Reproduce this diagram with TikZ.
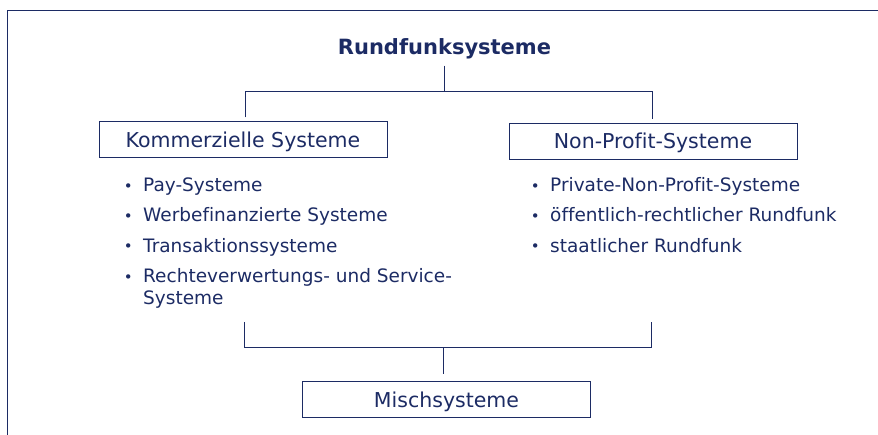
\documentclass[tikz,border=0pt]{standalone}
\usepackage{fontspec}
\setmainfont[Ligatures=NoCommon]{DejaVu Sans}
\definecolor{navy}{HTML}{1C2B64}
\newcommand{\itemdot}{\llap{\raisebox{0.5pt}{\fontsize{15}{17}\selectfont •}\hspace{10.5pt}}}
\begin{document}
\begin{tikzpicture}[x=1pt,y=-1pt,
  every node/.style={text=navy, inner sep=0pt},
  box/.style={draw=navy, line width=1pt, minimum width=288pt, minimum height=36pt,
    font=\fontsize{20.5}{24}\selectfont, text height=15pt, text depth=0pt},
  item/.style={anchor=base west, font=\fontsize{18.5}{22}\selectfont},
  conn/.style={draw=navy, line width=1pt},
]
\useasboundingbox (0,0) rectangle (878,435);
% frame
\coordinate (fbl) at (7,435);
\coordinate (ftl) at (7,11);
\coordinate (ftr) at (878,11);
\draw[conn] (fbl) -- (ftl) -- (ftr);

% title
\node[font=\fontsize{21}{25}\selectfont\bfseries, text height=15pt, text depth=0pt] (title) at (444.5,47.5) {Rundfunksysteme};

% boxes
\node[box] (kom) at (243,139.8) {Kommerzielle Systeme};
\node[box] (np) at (653,141.2) {Non-Profit-Systeme};
\node[box] (misch) at (446.5,399.7) {Mischsysteme};

% top connector
\coordinate (tj) at (444.5,92);
\coordinate (tl) at (245,92);
\coordinate (tr) at (652,92);
\draw[conn] ([yshift=-10.5pt]title.south) -- (tj);
\draw[conn] ([yshift=4pt]kom.north -| tl) -- (tl) -- (tr) -- ([yshift=4pt]np.north -| tr);

% bottom connector
\coordinate (bla) at (244.3,322);
\coordinate (bra) at (651,322);
\coordinate (bl) at (244.3,348);
\coordinate (br) at (651,348);
\coordinate (bj) at (443.7,348);
\draw[conn] (bla) -- (bl) -- (br) -- (bra);
\draw[conn] (bj) -- ([yshift=6.7pt]misch.north -| bj);

% left items
\node[item] (l1) at (143,192) {\itemdot Pay-Systeme};
\node[item] (l2) at (143,222) {\itemdot Werbefinanzierte Systeme};
\node[item] (l3) at (143,252.5) {\itemdot Transaktionssysteme};
\node[item] (l4) at (143,283) {\itemdot Rechteverwertungs- und Service-};
\node[item] (l4b) at (143,304.5) {Systeme};

% right items
\node[item] (r1) at (550,192) {\itemdot Private-Non-Profit-Systeme};
\node[item] (r2) at (550,222) {\itemdot öffentlich-rechtlicher Rundfunk};
\node[item] (r3) at (550,252.5) {\itemdot staatlicher Rundfunk};
\end{tikzpicture}
\end{document}
